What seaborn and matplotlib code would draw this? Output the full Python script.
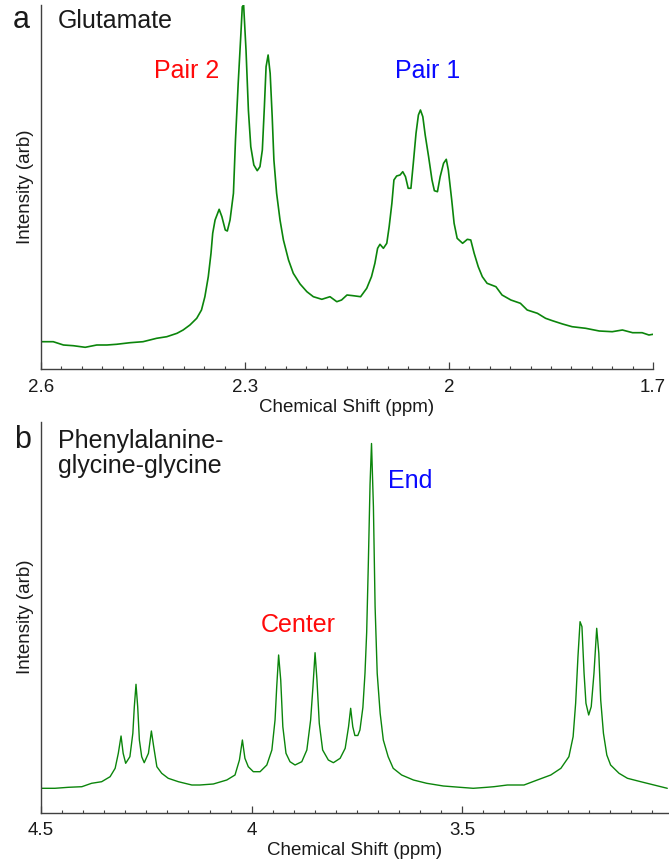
import numpy as np
import pandas as pd
import matplotlib
matplotlib.use("Agg")
import matplotlib.pyplot as plt
import seaborn as sns
from matplotlib.ticker import FixedLocator, MultipleLocator, FuncFormatter

sns.set_style("white")
plt.rcParams['font.family'] = ['Liberation Sans', 'DejaVu Sans']

# ---------------- Panel a: Glutamate ----------------
ppm_a = [2.599, 2.582, 2.567, 2.5525, 2.535, 2.518, 2.503, 2.489, 2.469, 2.450,
         2.430, 2.415, 2.400, 2.391, 2.381, 2.371, 2.364, 2.359, 2.354, 2.350,
         2.3475, 2.344, 2.338, 2.334, 2.329, 2.326, 2.322, 2.317, 2.314, 2.310,
         2.306, 2.304, 2.302, 2.2985, 2.295, 2.2915, 2.287, 2.282, 2.278, 2.2745,
         2.2715, 2.269, 2.266, 2.263, 2.260, 2.2575, 2.2535, 2.2485, 2.2435, 2.236,
         2.229, 2.219, 2.209, 2.1995, 2.187, 2.175, 2.165, 2.158, 2.150, 2.141,
         2.130, 2.121, 2.114, 2.109, 2.105, 2.1015, 2.0965, 2.0915, 2.088, 2.084,
         2.081, 2.077, 2.072, 2.068, 2.064, 2.060, 2.056, 2.0525, 2.0485, 2.045,
         2.042, 2.0385, 2.035, 2.030, 2.025, 2.0215, 2.017, 2.013, 2.008, 2.004,
         2.001, 1.996, 1.9925, 1.988, 1.980, 1.973, 1.968, 1.963, 1.957, 1.951,
         1.944, 1.931, 1.922, 1.909, 1.895, 1.885, 1.870, 1.858, 1.848, 1.833,
         1.819, 1.799, 1.779, 1.760, 1.745, 1.730, 1.716, 1.706, 1.700]
int_a = [27.6, 27.6, 24.3, 23.6, 22.0, 24.3, 24.3, 25.0, 26.6, 27.6,
         31.0, 32.6, 36.0, 39.3, 44.3, 51.0, 59.3, 72.6, 92.6, 116,
         136, 149.3, 160, 152.6, 139.3, 138.3, 149.3, 176, 229.3, 286,
         336, 362.6, 364, 319, 259, 222.6, 204.3, 198.6, 202.6, 219.3,
         262.6, 302.6, 314.3, 296, 252.6, 209.3, 176, 149.3, 129.3, 109.3,
         96, 85.3, 77.6, 72.6, 70, 72.6, 67.6, 69.3, 74.3, 73.6,
         72.6, 81, 92.6, 106, 121, 125, 121, 126, 142.6, 166,
         189.3, 193.3, 194.3, 197.6, 192.6, 181, 181, 206, 236, 254.3,
         259.3, 252.6, 234.3, 212.6, 189.3, 178.6, 177.6, 192.6, 206, 210,
         199.3, 169.3, 146, 131, 126, 130, 129.3, 116, 102.6, 92.6,
         86, 82.6, 74.3, 69.3, 66, 59.3, 56, 51, 48.6, 45.3,
         42.6, 41, 38.3, 37.6, 39.3, 36.6, 36.6, 34.3, 35]
ticks_a = [2.6, 2.3, 2.0, 1.7]

# ---------------- Panel b: Phe-Gly-Gly ----------------
ppm_b = [4.500, 4.467, 4.435, 4.403, 4.380, 4.356, 4.336, 4.324, 4.3165, 4.310,
         4.305, 4.299, 4.289, 4.282, 4.2785, 4.2745, 4.2705, 4.2665, 4.261, 4.255,
         4.245, 4.238, 4.2325, 4.225, 4.2135, 4.198, 4.174, 4.142, 4.123, 4.091,
         4.059, 4.0395, 4.029, 4.022, 4.016, 4.008, 3.996, 3.980, 3.964, 3.952,
         3.9445, 3.9405, 3.936, 3.931, 3.926, 3.9185, 3.909, 3.897, 3.881, 3.869,
         3.860, 3.8545, 3.8495, 3.845, 3.8395, 3.8315, 3.818, 3.806, 3.790, 3.778,
         3.770, 3.765, 3.760, 3.755, 3.748, 3.743, 3.736, 3.731, 3.727, 3.723,
         3.719, 3.7155, 3.711, 3.707, 3.702, 3.695, 3.6875, 3.676, 3.664, 3.644,
         3.616, 3.5845, 3.545, 3.5055, 3.474, 3.442, 3.425, 3.393, 3.3535, 3.322,
         3.290, 3.266, 3.247, 3.237, 3.231, 3.2255, 3.2205, 3.216, 3.211, 3.2065,
         3.200, 3.194, 3.1875, 3.181, 3.176, 3.1715, 3.165, 3.157, 3.148, 3.128,
         3.108, 3.0765, 3.045, 3.0135]
int_b = [24.2, 24.2, 25.2, 25.8, 29.2, 30.8, 35.8, 44.2, 59.2, 76.5,
         59.2, 49.2, 55.8, 79.2, 105.8, 128.2, 105.8, 72.5, 55.8, 49.8,
         59.2, 81.5, 65.8, 45.8, 39.2, 34.2, 30.8, 27.5, 27.5, 28.5,
         32.5, 37.5, 52.5, 72.5, 54.2, 45.8, 40.8, 40.8, 47.5, 62.5,
         92.5, 125.8, 157.5, 132.5, 85.8, 59.2, 50.8, 47.5, 50.8, 62.5,
         92.5, 125.8, 159.8, 132.5, 89.2, 62.5, 52.5, 49.8, 54.2, 64.2,
         85.8, 104.2, 85.8, 77, 77, 82.5, 105, 139.2, 180, 250,
         328, 369, 305.8, 205.8, 139.2, 99.2, 72.5, 55.8, 44.2, 37.5,
         32.5, 29.2, 26.5, 25.2, 24.2, 25.2, 25.8, 27.5, 27.5, 32.5,
         37.5, 44.2, 55.8, 75.8, 109.2, 155.8, 190.8, 185.8, 139.2, 109.2,
         97.5, 105.8, 139.2, 184.2, 159.2, 112.5, 79.2, 57.5, 47.5, 39.2,
         34.2, 30.8, 27.5, 24.2]
ticks_b = [4.5, 4.0, 3.5]

GREEN = '#0b850b'
RED = '#ff0a0a'
BLUE = '#0a0aff'
TXT = '#1a1a1a'
AXC = '#404040'

W, H = 669, 864
fig = plt.figure(figsize=(W / 100, H / 100), dpi=100)
ax_a = fig.add_axes([41 / W, 1 - 369.3 / H, 612 / W, 364.3 / H])
ax_b = fig.add_axes([41 / W, 1 - 812.5 / H, 628 / W, 390.5 / H])

df_a = pd.DataFrame({'ppm': ppm_a, 'intensity': int_a})
df_b = pd.DataFrame({'ppm': ppm_b, 'intensity': int_b})
sns.lineplot(data=df_a, x='ppm', y='intensity', ax=ax_a, color=GREEN,
             linewidth=1.2, estimator=None)
sns.lineplot(data=df_b, x='ppm', y='intensity', ax=ax_b, color=GREEN,
             linewidth=1.0, estimator=None)

ax_a.set_xlim(2.6, 1.7)
ax_a.set_ylim(0, 364.3)
ax_b.set_xlim(4.5, 3.0094)
ax_b.set_ylim(0, 390.5)

fmt = FuncFormatter(lambda v, p: f"{v:g}")
ax_a.xaxis.set_major_locator(FixedLocator(ticks_a))
ax_a.xaxis.set_minor_locator(FixedLocator(np.round(np.arange(1.7, 2.6001, 0.03), 3)))
ax_b.xaxis.set_major_locator(FixedLocator(ticks_b))
ax_b.xaxis.set_minor_locator(MultipleLocator(0.05))

for ax in (ax_a, ax_b):
    ax.xaxis.set_major_formatter(fmt)
    ax.set_yticks([])
    for s in ('top', 'right'):
        ax.spines[s].set_visible(False)
    for s in ('left', 'bottom'):
        ax.spines[s].set_color(AXC)
        ax.spines[s].set_linewidth(1.0)
    ax.tick_params(axis='x', which='both', bottom=True, top=False)
    ax.tick_params(axis='x', which='major', direction='in', length=5, width=0.9,
                   color=AXC, labelsize=13.5, pad=7, labelcolor=TXT)
    ax.tick_params(axis='x', which='minor', direction='in', length=2.5, width=0.8,
                   color=AXC)
    ax.set_xlabel('Chemical Shift (ppm)', fontsize=13.5, labelpad=2, color=TXT)
    ax.set_ylabel('Intensity (arb)', fontsize=13.5, labelpad=5, color=TXT)

ax_a.text(2.434, 291.3, 'Pair 2', color=RED, fontsize=18, ha='left', va='baseline')
ax_a.text(2.079, 291.8, 'Pair 1', color=BLUE, fontsize=18, ha='left', va='baseline')
ax_b.text(3.9785, 180.8, 'Center', color=RED, fontsize=18, ha='left', va='baseline')
ax_b.text(3.6756, 324.2, 'End', color=BLUE, fontsize=18, ha='left', va='baseline')

fig.text(13 / W, 1 - 28 / H, 'a', fontsize=22, va='baseline', color=TXT)
fig.text(58 / W, 1 - 27.5 / H, 'Glutamate', fontsize=18, va='baseline', color=TXT)
fig.text(14 / W, 1 - 448 / H, 'b', fontsize=22, va='baseline', color=TXT)
fig.text(58 / W, 1 - 448 / H, 'Phenylalanine-', fontsize=18, va='baseline', color=TXT)
fig.text(58 / W, 1 - 473 / H, 'glycine-glycine', fontsize=18, va='baseline', color=TXT)

fig.savefig('out.png', dpi=100)
